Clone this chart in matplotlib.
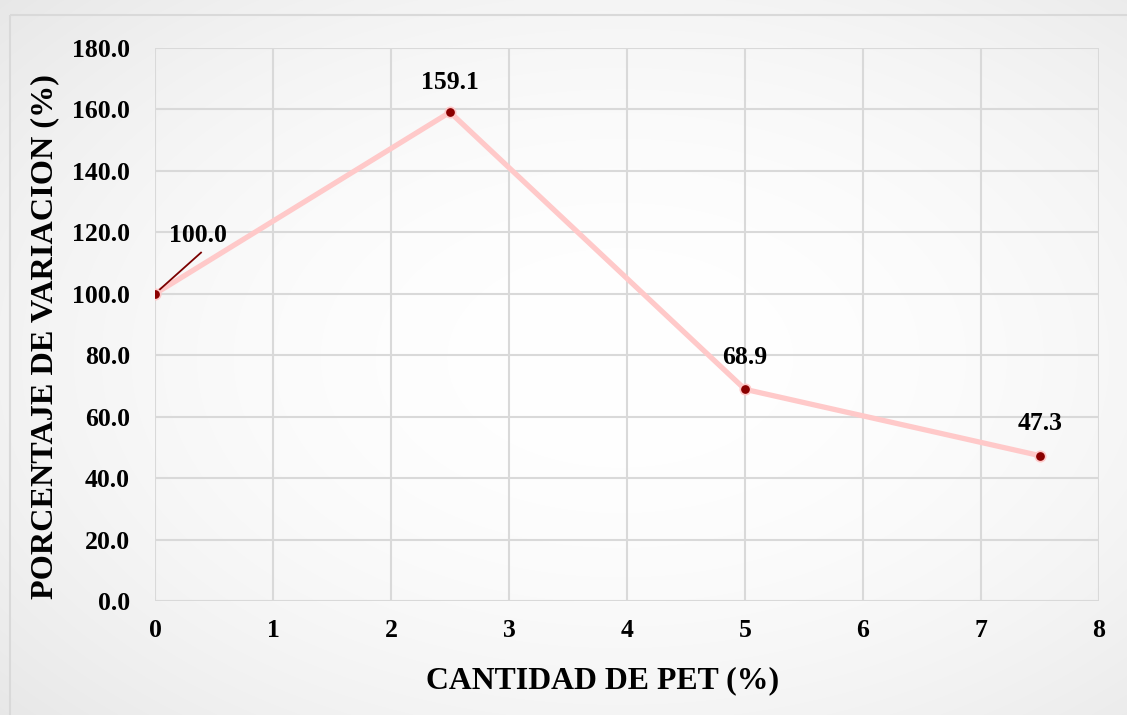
import numpy as np
import matplotlib.pyplot as plt
from matplotlib.patches import Rectangle

# Data
pet_pct = [0, 2.5, 5, 7.5]
variation = [100.0, 159.1, 68.9, 47.3]
x_ticks = [0, 1, 2, 3, 4, 5, 6, 7, 8]
y_ticks = [0, 20, 40, 60, 80, 100, 120, 140, 160, 180]
x_label = "CANTIDAD DE PET (%)"
y_label = "PORCENTAJE DE VARIACION (%)"

plt.rcParams['font.family'] = ['Liberation Serif', 'DejaVu Serif']
plt.rcParams['font.weight'] = 'bold'

W, H = 1127, 715
fig = plt.figure(figsize=(W / 100, H / 100), dpi=100)
fig.patch.set_facecolor('white')

# Soft radial background for the chart area
bg = fig.add_axes([0, 0, 1, 1], zorder=-10)
yy, xx = np.mgrid[0:H, 0:W]
r = np.sqrt(((xx - W * 0.55) / (W * 0.6)) ** 2 + ((yy - H * 0.5) / (H * 0.6)) ** 2)
shade = 1.0 - 0.06 * np.clip(r, 0, 1.3) ** 2
bg.imshow(np.dstack([shade] * 3), extent=[0, W, H, 0], aspect='auto')
bg.add_patch(Rectangle((9.5, 14.5), W + 20, H + 20, fill=False,
                       edgecolor='#d9d9d9', linewidth=1.5))
bg.set_xlim(0, W)
bg.set_ylim(H, 0)
bg.axis('off')

ax = fig.add_axes([155 / W, 1 - 601 / H, (1099 - 155) / W, (601 - 48) / H])
ax.patch.set_alpha(0)

ax.plot(pet_pct, variation, color='#ffc9c9', linewidth=3.8, zorder=3,
        solid_capstyle='round', solid_joinstyle='round')
ax.plot(pet_pct, variation, linestyle='none', marker='o', markersize=7.5,
        markerfacecolor='#8b0000', markeredgecolor='#ffc9c9',
        markeredgewidth=1.2, zorder=4)

ax.set_xlim(0, 8)
ax.set_ylim(0, 180)
ax.set_xticks(x_ticks)
ax.set_yticks(y_ticks)
ax.set_xticklabels([str(v) for v in x_ticks])
ax.set_yticklabels([f"{v:.1f}" for v in y_ticks])
ax.tick_params(axis='both', length=0, labelsize=18.5)
ax.tick_params(axis='x', pad=13)
ax.tick_params(axis='y', pad=18)
for lab in ax.get_xticklabels() + ax.get_yticklabels():
    lab.set_fontweight('bold')

ax.grid(True, color='#d9d9d9', linewidth=1.5, zorder=0)
ax.set_axisbelow(True)
for s in ax.spines.values():
    s.set_visible(False)

ax.set_xlabel(x_label, fontsize=22.9, fontweight='bold', labelpad=16)
ax.xaxis.set_label_coords(0.4746, -0.118)
ax.set_ylabel(y_label, fontsize=23.2, fontweight='bold')
ax.yaxis.set_label_coords(-0.1014, 0.479)

# Value labels
offsets = {0: (0.36, 119.1), 1: (2.5, 168.9), 2: (5.0, 79.4), 3: (7.5, 57.9)}
for i, (x, y) in enumerate(zip(pet_pct, variation)):
    tx, ty = offsets[i]
    ax.text(tx, ty, f"{y:.1f}", ha='center', va='center', fontsize=18.5,
            fontweight='bold', zorder=5)

# Leader line for the first label
ax.plot([pet_pct[0], 0.39], [variation[0], 113.4], color='#7b0000',
        linewidth=1.3, zorder=3.5)

fig.savefig('out.png', dpi=100)
